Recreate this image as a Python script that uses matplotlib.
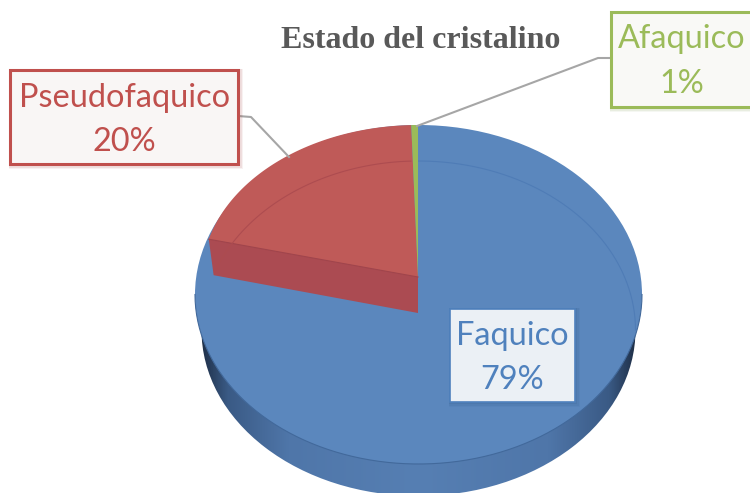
"""Estado del cristalino: tarta 3D dibujada a mano con polígonos en coordenadas de píxel."""
import numpy as np
import matplotlib
matplotlib.use("Agg")
import matplotlib.pyplot as plt
from matplotlib.colors import LinearSegmentedColormap
from matplotlib.patches import Ellipse, Rectangle

categories = ["Faquico", "Pseudofaquico", "Afaquico"]
shares = [79.0, 20.5, 0.5]
pct_labels = ["79%", "20%", "1%"]

BLUE = "#5b87bd"
RED = "#bf5a58"
WALL = "#ab4b52"
GREEN = "#9bbb59"
LEADER = "#a6a6a6"

fig = plt.figure(figsize=(7.5, 4.93), dpi=100)
ax = fig.add_axes([0, 0, 1, 1])
ax.axis("off")


def arc(cx, cy, a, b, t0, t1, n=80):
    # ángulos en grados, horario desde las 12
    t = np.radians(np.linspace(t0, t1, n))
    return cx + a * np.sin(t), cy - b * np.cos(t)


# silueta: cara lateral con degradado, luego la cara superior
side = Ellipse((418.5, 330), 434, 332, transform=ax.transData, fc="none", ec="none")
ax.add_patch(side)
side_cmap = LinearSegmentedColormap.from_list(
    "side", [(0, "#1f3048"), (0.06, "#3a5a85"), (0.2, "#4f76a9"), (0.5, "#567fb3"),
             (0.8, "#4f76a9"), (0.94, "#3a5a85"), (1, "#1f3048")])
grad = ax.imshow(np.linspace(0, 1, 256).reshape(1, -1), cmap=side_cmap, aspect="auto",
                 extent=(201, 636, 500, 160), zorder=1)
grad.set_clip_path(side)
ax.add_patch(Ellipse((418.5, 294.5), 447, 339, fc=BLUE, ec="none", zorder=2))

# líneas finas de la elipse interior
x, y = arc(418.5, 330, 217, 169, -70, 90)
ax.plot(x, y, color="#4f7cb6", lw=0.8, zorder=3)
x, y = arc(418.5, 294.5, 223.5, 169.5, 90, 270)
ax.plot(x, y, color="#42699b", lw=0.8, zorder=3)

# porciones: la azul empieza arriba y va en sentido horario
edges = np.cumsum([0] + shares) * 3.6
red0, red1 = edges[1], edges[2]
green0, green1 = edges[2], edges[3]

x, y = arc(418, 277, 216, 152, red0, red1)
ax.fill(np.r_[418, x], np.r_[277, y], color=RED, lw=0, zorder=4)
x, y = arc(418, 277, 216, 152, green0, green1, 8)
ax.fill(np.r_[418, x], np.r_[277, y], color=GREEN, lw=0, zorder=4)

# pared del corte rojo
xt, yt = arc(418, 277, 216, 152, red0, red0, 1)
xb, yb = arc(418, 313, 211, 152, red0, red0, 1)
ax.fill([xt[0], 418, 418, xb[0]], [yt[0], 277, 313, yb[0]], color=WALL, lw=0, zorder=5)
ax.plot([xt[0], 418], [yt[0], 277], color="#a3444a", lw=0.8, zorder=6)
x, y = arc(418.5, 330, 217, 169, 290, 358)
ax.plot(x, y, color="#ad4c50", lw=0.8, zorder=6)

# líneas guía
ax.plot([610, 598, 417], [58, 58, 126], color=LEADER, lw=1.5, zorder=7)
ax.plot([238, 251, 289], [116, 117, 157], color=LEADER, lw=1.5, zorder=7)


def callout(x0, y0, x1, y1, edge, face, lw, shadow, name, pct, cx, y_name, y_pct):
    for k, alpha in zip((5, 3.5, 2), (0.07, 0.10, 0.14)):
        ax.add_patch(Rectangle((x0 - 1, y0 - 1), x1 - x0 + k + 1, y1 - y0 + k + 1, fc=shadow,
                               ec="none", alpha=alpha, zorder=8))
    ax.add_patch(Rectangle((x0, y0), x1 - x0, y1 - y0, fc=face, ec=edge, lw=lw, zorder=9))
    for txt, yy in ((name, y_name), (pct, y_pct)):
        ax.text(cx, yy, txt, color=edge, family="Lato", fontsize=23.4, ha="center",
                va="center", zorder=10)


callout(450, 309, 575, 402, "#4f81bd", "#ebf0f5", 1.2, "#2f5685",
        categories[0], pct_labels[0], 512.5, 336, 380)
callout(10, 70, 238, 164, "#c0504d", "#f9f6f5", 2.2, "#a03c3a",
        categories[1], pct_labels[1], 124.5, 98, 142)
callout(610.5, 12, 752, 107, "#9bbb59", "#f9f9f6", 2.2, "#7f9a48",
        categories[2], pct_labels[2], 682, 39, 84)

ax.text(421, 41, "Estado del cristalino", color="#595959", family="Liberation Serif",
        fontweight="bold", fontsize=23, ha="center", va="center", zorder=10)

ax.set_xlim(0, 750)
ax.set_ylim(493, 0)
fig.savefig("out.png", dpi=100)
